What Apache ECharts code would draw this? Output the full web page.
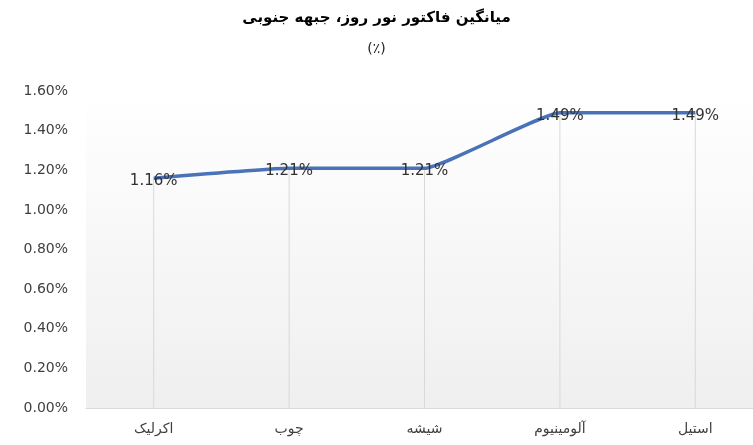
<!DOCTYPE html>
<html>
<head>
<meta charset="utf-8">
<script src="https://cdn.jsdelivr.net/npm/echarts@6/dist/echarts.min.js"></script>
<style>
  html, body { margin: 0; padding: 0; background: #fff; }
  #main { width: 753px; height: 445px; }
</style>
</head>
<body>
<div id="main"></div>
<script>
var myChart = echarts.init(document.getElementById('main'));

var materials = ['اکرلیک', 'چوب', 'شیشه', 'آلومینیوم', 'استیل'];
var daylightFactor = [1.16, 1.21, 1.21, 1.49, 1.49];
var yTicks = [0, 0.2, 0.4, 0.6, 0.8, 1.0, 1.2, 1.4, 1.6];

var font = '"DejaVu Sans", "Noto Sans", sans-serif';

var option = {
    backgroundColor: '#ffffff',
    title: {
        text: 'میانگین فاکتور نور روز، جبهه جنوبی',
        subtext: '(٪)',
        left: 'center',
        top: 6,
        itemGap: 16,
        textStyle: {
            fontFamily: font,
            fontSize: 15,
            fontWeight: 'bold',
            color: '#000'
        },
        subtextStyle: {
            fontFamily: font,
            fontSize: 14,
            color: '#222'
        }
    },
    grid: {
        left: 86,
        top: 91,
        bottom: 37,
        width: 677,
        outerBoundsMode: 'none',
        show: true,
        borderWidth: 0,
        backgroundColor: new echarts.graphic.LinearGradient(0, 0, 0, 1, [
            { offset: 0, color: '#ffffff' },
            { offset: 1, color: '#efefef' }
        ])
    },
    xAxis: {
        type: 'category',
        data: materials,
        axisTick: { show: false },
        axisLine: { lineStyle: { color: '#d9d9d9', width: 1 } },
        axisLabel: {
            fontFamily: font,
            fontSize: 14,
            color: '#404040',
            margin: 14
        }
    },
    yAxis: {
        type: 'value',
        min: yTicks[0],
        max: yTicks[yTicks.length - 1],
        interval: 0.2,
        axisLine: { show: false },
        axisTick: { show: false },
        splitLine: { show: false },
        axisLabel: {
            fontFamily: font,
            fontSize: 14,
            color: '#404040',
            margin: 18,
            formatter: function (v) { return v.toFixed(2) + '%'; }
        }
    },
    series: [
        {
            // drop lines from each point to the axis
            type: 'bar',
            data: daylightFactor,
            barWidth: 1,
            silent: true,
            itemStyle: { color: '#d9d9d9' },
            z: 1
        },
        {
            type: 'line',
            data: daylightFactor,
            smooth: 0.12,
            symbol: 'circle',
            symbolSize: 0,
            lineStyle: { color: '#4a72b8', width: 3.5 },
            itemStyle: { color: '#4a72b8' },
            label: {
                show: true,
                position: 'inside',
                offset: [0, 3],
                fontFamily: font,
                fontSize: 15,
                color: '#333333',
                formatter: function (p) { return p.value.toFixed(2) + '%'; }
            },
            z: 3
        }
    ]
};

myChart.setOption(option);
</script>
</body>
</html>
